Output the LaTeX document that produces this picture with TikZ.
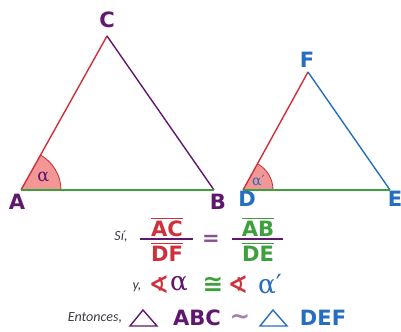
\documentclass[tikz,border=0pt]{standalone}
\usepackage{fontspec}
\setsansfont{DejaVu Sans}
\newfontfamily\notafont{Carlito}
\newfontfamily\simbfont{DejaVu Sans}
\newfontfamily\alfafont{DejaVu Serif}
\usetikzlibrary{angles, quotes}

\definecolor{morado}{RGB}{96,24,110}
\definecolor{rojo}{RGB}{205,50,60}
\definecolor{verde}{RGB}{60,160,60}
\definecolor{azul}{RGB}{40,110,190}
\definecolor{rosa}{RGB}{242,150,150}
\definecolor{gris}{RGB}{60,60,70}

\begin{document}
\begin{tikzpicture}[
    x=0.02cm, y=-0.02cm,
    line width=0.8pt,
    vertice/.style={font=\sffamily\bfseries\fontsize{12}{14}\selectfont, inner sep=0pt},
    letras/.style={font=\sffamily\bfseries\fontsize{12}{14}\selectfont, inner sep=1pt},
    nota/.style={font=\notafont\itshape\fontsize{8}{10}\selectfont, text=gris, inner sep=0pt},
    simbolo/.style={font=\simbfont\bfseries\fontsize{14}{16}\selectfont, inner sep=0pt},
    alfa/.style={font=\alfafont\fontsize{15}{17}\selectfont, inner sep=0pt},
    angulo/.style={draw=rojo, fill=rosa, line width=0.5pt}
]
    \useasboundingbox (0,0) rectangle (401,331);

    % triangulo ABC
    \coordinate (A) at (21,190);
    \coordinate (B) at (214,190);
    \coordinate (C) at (107,36);
    \pic[angulo, angle radius=0.8cm, "α", angle eccentricity=0.65,
         pic text options={text=morado, font=\alfafont\fontsize{10}{12}\selectfont}] {angle=B--A--C};
    \draw[rojo] (A) -- (C);
    \draw[morado] (C) -- (B);
    \draw[verde] (A) -- (B);
    \node[vertice, text=morado] (la) at (17,202) {A};
    \node[vertice, text=morado] (lb) at (218,202) {B};
    \node[vertice, text=morado] (lc) at (107,20) {C};

    % triangulo DEF
    \coordinate (D) at (243,190);
    \coordinate (E) at (390,190);
    \coordinate (F) at (308,72);
    \pic[angulo, angle radius=0.6cm, "α′", angle eccentricity=0.6,
         pic text options={text=azul, font=\alfafont\fontsize{8}{10}\selectfont}] {angle=E--D--F};
    \draw[rojo] (D) -- (F);
    \draw[azul] (F) -- (E);
    \draw[verde] (D) -- (E);
    \node[vertice, text=azul] (ld) at (247,199) {D};
    \node[vertice, text=azul] (le) at (395,199) {E};
    \node[vertice, text=azul] (lf) at (307,60) {F};

    % razones
    \node[nota] (si) at (121,237) {Sí,};
    \node[letras, text=rojo] (ac) at (167,227) {$\overline{\mbox{AC}}$};
    \node[letras, text=rojo] (df) at (167,252) {$\overline{\mbox{DF}}$};
    \coordinate (b1) at (140,239);
    \coordinate (b2) at (193,239);
    \draw[morado, line width=1pt] (b1) -- (b2);
    \node[letras, text=morado!75] (igual) at (211,240) {=};
    \node[letras, text=verde] (ab) at (258,227) {$\overline{\mbox{AB}}$};
    \node[letras, text=verde] (de) at (258,252) {$\overline{\mbox{DE}}$};
    \coordinate (b3) at (232,239);
    \coordinate (b4) at (283,239);
    \draw[morado, line width=1pt] (b3) -- (b4);

    % angulos
    \node[nota] (yy) at (137,287) {y,};
    \node[simbolo, text=rojo] (ang1) at (159,285) {∢};
    \node[alfa, text=morado] (alfa1) at (179,284) {α};
    \node[simbolo, text=verde] (cong) at (213,285) {≅};
    \node[simbolo, text=rojo] (ang2) at (238,285) {∢};
    \node[alfa, text=azul] (alfa2) at (270,284) {α′};

    % semejanza
    \node[nota] (ent) at (95,318) {Entonces,};
    \draw[morado] (130,326) -- (157,326) -- (143,310) -- cycle;
    \node[letras, text=morado] (abc) at (197,318) {ABC};
    \node[simbolo, text=morado!55] (sim) at (240,319) {∼};
    \draw[azul] (260,326) -- (287,326) -- (273,310) -- cycle;
    \node[letras, text=azul] (def) at (323,318) {DEF};
\end{tikzpicture}
\end{document}
